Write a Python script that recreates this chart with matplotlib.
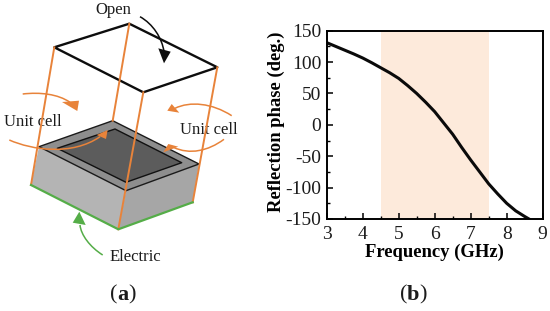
"""Unit cell schematic and reflection phase curve."""

import matplotlib

matplotlib.use("Agg")
import matplotlib.pyplot as plt
from matplotlib.patches import PathPatch, Polygon
from matplotlib.path import Path

freq = [3.0, 3.25, 3.5, 3.75, 4.0, 4.25, 4.5, 4.75, 5.0, 5.25, 5.5, 5.75, 6.0,
        6.25, 6.5, 6.75, 7.0, 7.25, 7.5, 7.75, 8.0, 8.25, 8.5, 8.65]
phase = [131, 125, 119, 113, 106.5, 99, 91, 83, 74, 62.5, 50, 36, 21,
         3, -15, -36, -56, -75, -94, -110, -125, -137, -146, -151]
band = [4.5, 7.5]
xticks = [3, 4, 5, 6, 7, 8, 9]
yticks = [-150, -100, -50, 0, 50, 100, 150]

ORANGE = "#e8833a"
GREEN = "#55ad48"
TEXT = "#1c1c1c"
W, H = 550, 311

plt.rcParams["font.family"] = ["Liberation Serif", "DejaVu Serif"]
plt.rcParams["axes.unicode_minus"] = False
fig = plt.figure(figsize=(W / 100, H / 100), dpi=100)

# panel b
ax = fig.add_axes([326.7 / W, 1 - 219 / H, 216 / W, 188.3 / H])
ax.axvspan(band[0], band[1], color="#fdeadb", lw=0)
ax.plot(freq, phase, color="#0a0a0a", lw=2.2, solid_capstyle="butt", solid_joinstyle="round")
ax.set_xlim(3, 9)
ax.set_ylim(-150, 150)
ax.set_xticks(xticks)
ax.set_yticks(yticks)
ax.set_xticks([3.5, 4.5, 5.5, 6.5, 7.5, 8.5], minor=True)
ax.set_yticks([-125, -75, -25, 25, 75, 125], minor=True)
ax.tick_params(which="major", direction="in", length=4.5, width=1.1, labelsize=14, labelcolor=TEXT)
ax.tick_params(axis="x", which="major", pad=5)
ax.tick_params(axis="y", which="major", pad=4)
ax.tick_params(which="minor", direction="in", length=2.5, width=1)
for spine in ax.spines.values():
    spine.set_linewidth(1.4)
ax.set_xlabel("Frequency (GHz)", fontsize=13.4, fontweight="bold", va="center")
ax.set_ylabel("Reflection phase (deg.)", fontsize=13.4, fontweight="bold", va="center")
ax.xaxis.set_label_coords(0.501, -0.175)
ax.yaxis.set_label_coords(-0.232, 0.518)

# panel a, drawn in pixel coordinates
sk = fig.add_axes([0, 0, 1, 1], zorder=-1)
sk.set_xlim(0, W)
sk.set_ylim(H, 0)
sk.axis("off")


def poly(pts, fc, ec="none", lw=0.0, z=1):
    sk.add_patch(Polygon(pts, closed=True, fc=fc, ec=ec, lw=lw, zorder=z, joinstyle="round"))


def curve_arrow(start, c1, c2, end, head, color):
    path = Path([start, c1, c2, end], [Path.MOVETO, Path.CURVE4, Path.CURVE4, Path.CURVE4])
    sk.add_patch(PathPatch(path, fc="none", ec=color, lw=1.1, zorder=5))
    poly(head, color, z=6)


top_a, top_b, top_c, top_d = (54.3, 47.3), (129.3, 23.7), (217.3, 67.3), (143.3, 92.3)
box_a, box_b, box_c, box_d = (39, 146.7), (112.7, 120.7), (199, 164), (126, 190.7)
base_a, base_d, base_c = (31, 185), (118.3, 229.3), (192.7, 202.3)

poly([box_a, box_d, base_d, base_a], "#b4b4b4")
poly([box_d, box_c, base_c, base_d], "#a6a6a6")
poly([box_a, box_b, box_c, box_d], "#8e8e8e", "#1a1a1a", 1.0, z=2)
poly([(57.3, 148.3), (115, 129), (181.7, 162.7), (126, 182.3)], "#5c5c5c", "#111111", 1.0, z=3)

poly([top_a, top_b, top_c, top_d], "none", "#0d0d0d", 1.7, z=4)

for p, q in [(top_a, base_a), (top_b, box_b), (top_c, base_c), (top_d, base_d)]:
    sk.plot([p[0], q[0]], [p[1], q[1]], color=ORANGE, lw=1.4, zorder=4.5)
sk.plot([base_a[0], base_d[0], base_c[0]], [base_a[1], base_d[1], base_c[1]], color=GREEN, lw=1.6, zorder=4.6)

curve_arrow((22.7, 94), (40, 92), (58, 94), (70, 102.3), [(62, 102), (79, 100.7), (77.3, 111)], ORANGE)
curve_arrow((231.7, 115.7), (212, 103), (190, 101), (175, 108.3), [(167.3, 110.7), (171.7, 104), (179.3, 112.7)], ORANGE)
curve_arrow((9.3, 140), (32, 150), (72, 156), (100, 136.7), [(96.7, 135), (107.7, 130), (106, 139)], ORANGE)
curve_arrow((224, 139.3), (208, 151), (190, 155), (173.3, 147.3), [(163.3, 152.3), (168.3, 144), (178.3, 146.7)], ORANGE)
curve_arrow((140, 16.7), (153, 24), (162, 38), (164, 51.7), [(158.3, 48.3), (170.7, 51.7), (164, 63.3)], "#0d0d0d")
curve_arrow((102.7, 255), (90, 247), (81, 235), (80, 225), [(79.3, 211.7), (72.7, 222.7), (85.7, 225)], GREEN)

sk.text(113, 9.5, "Open", fontsize=12, ha="center", va="center", color=TEXT)
sk.text(33, 122, "Unit cell", fontsize=12, ha="center", va="center", color=TEXT)
sk.text(208.5, 130, "Unit cell", fontsize=12, ha="center", va="center", color=TEXT)
sk.text(135.3, 257, "Electric", fontsize=12, ha="center", va="center", color=TEXT)

for letter, cx in [("a", 122.7), ("b", 413.3)]:
    sk.text(cx - 5.5, 295, "(", fontsize=16, ha="right", va="center", color=TEXT)
    sk.text(cx, 295, letter, fontsize=16, ha="center", va="center", fontweight="bold", color=TEXT)
    sk.text(cx + 5.5, 295, ")", fontsize=16, ha="left", va="center", color=TEXT)

fig.savefig("out.png", dpi=100)
plt.close(fig)
